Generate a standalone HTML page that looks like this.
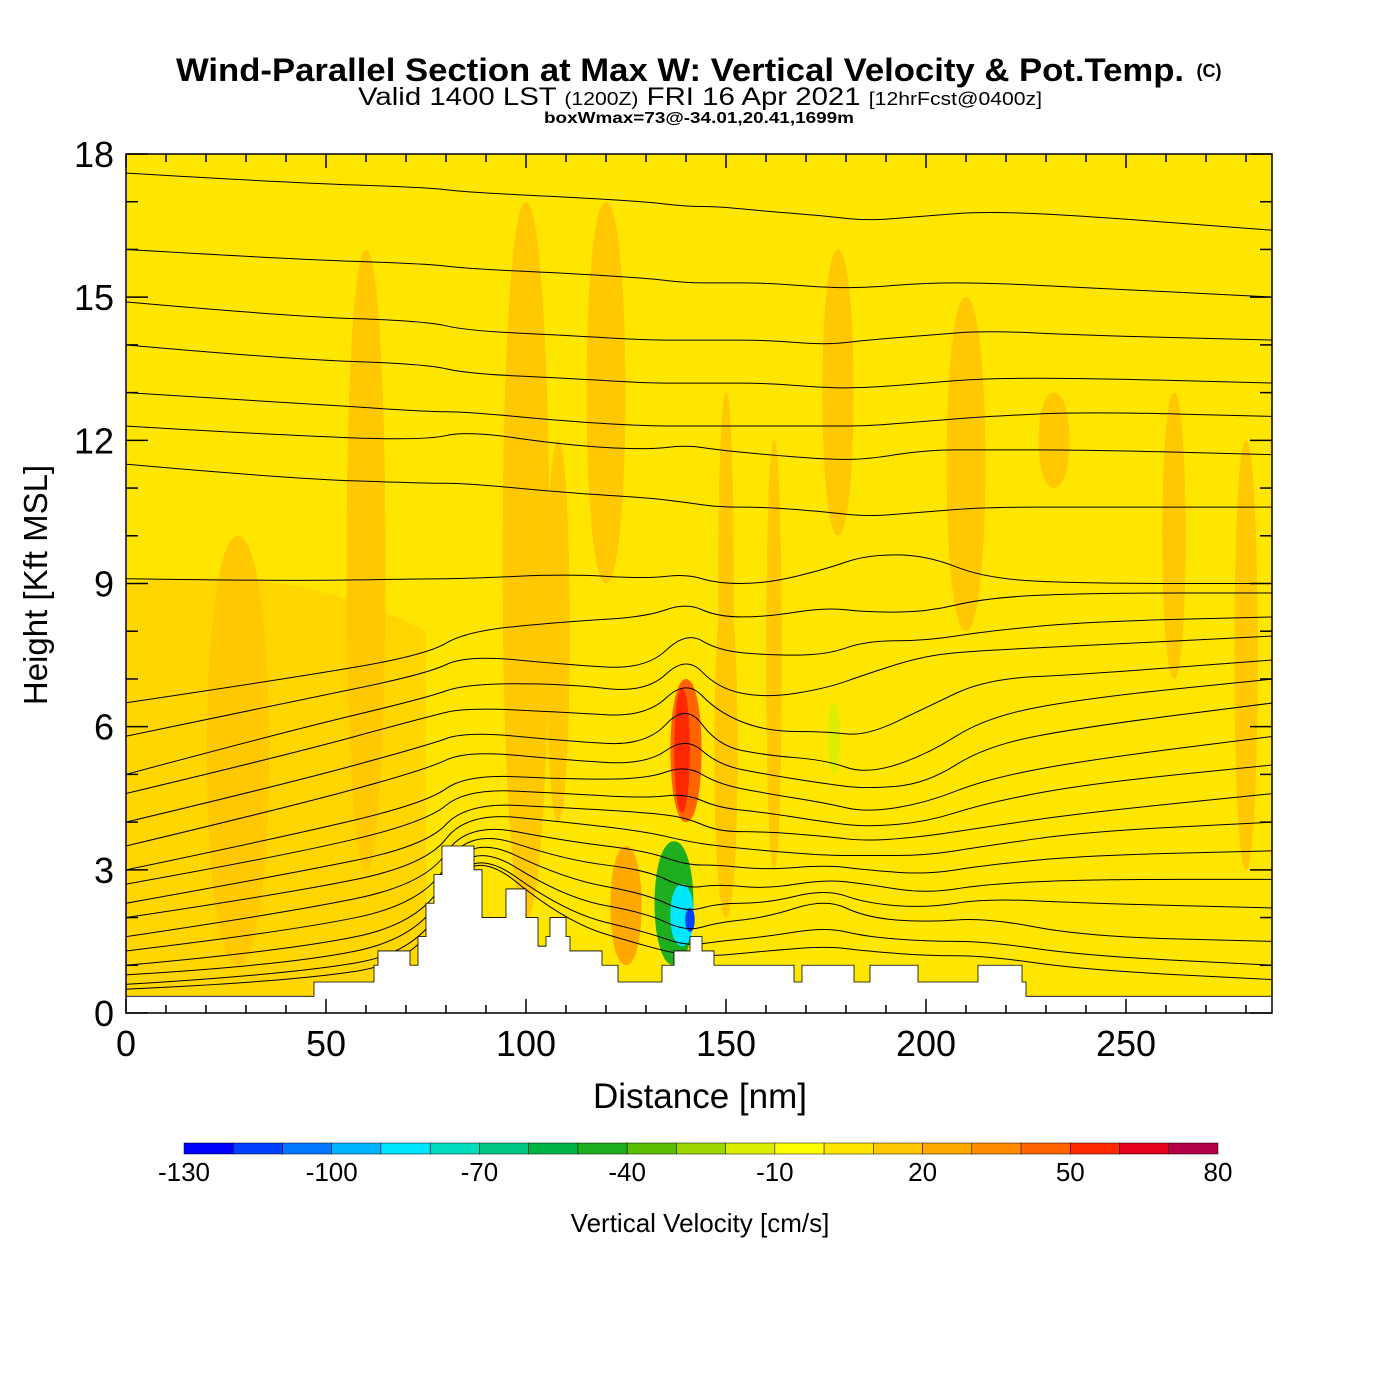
<!DOCTYPE html>
<html><head><meta charset="utf-8"><style>
body{margin:0;background:#fff;}
svg{display:block;font-family:"Liberation Sans",sans-serif;}
</style></head><body>
<svg id="chart" width="1400" height="1400" viewBox="0 0 1400 1400">
<text x="176" y="81" font-size="32" font-weight="bold" textLength="1008" lengthAdjust="spacingAndGlyphs">Wind-Parallel Section at Max W: Vertical Velocity &amp; Pot.Temp.</text>
<text x="1209" y="77" text-anchor="middle" font-size="18" font-weight="bold">(C)</text>
<text x="358" y="105" font-size="25" textLength="684" lengthAdjust="spacingAndGlyphs">Valid 1400 LST <tspan font-size="18">(1200Z)</tspan> FRI 16 Apr 2021 <tspan font-size="18">[12hrFcst@0400z]</tspan></text>
<text x="544" y="123" font-size="16" font-weight="bold" textLength="310" lengthAdjust="spacingAndGlyphs">boxWmax=73@-34.01,20.41,1699m</text>
<defs><clipPath id="plotclip"><rect x="126" y="154" width="1146" height="859"/></clipPath></defs>
<g id="plot" clip-path="url(#plotclip)">
<rect x="126" y="154" width="1146" height="859" fill="#ffe600"/>
<g id="fills"></g>
<g id="contours"></g>
<g id="terrain"></g>
</g>
<rect x="126" y="154" width="1146" height="859" fill="none" stroke="#000" stroke-width="1.5"/>
<g id="axes"></g>
<text x="700" y="1108" text-anchor="middle" font-size="35">Distance [nm]</text>
<text transform="translate(47,585) rotate(-90)" text-anchor="middle" font-size="33">Height [Kft MSL]</text>
<g id="colorbar"></g>
<text x="700" y="1232" text-anchor="middle" font-size="26">Vertical Velocity [cm/s]</text>
</svg>
<script>
const NS="http://www.w3.org/2000/svg";
// ---- data ----
const xSamples=[0,40,75,85,110,130,140,148,160,175,185,200,215,240,287];
const thetaLines=[
[17.6,17.4,17.3,17.2,17.1,17.0,16.9,16.9,16.8,16.7,16.6,16.7,16.8,16.7,16.4],
[16.0,15.8,15.7,15.6,15.5,15.4,15.3,15.3,15.3,15.2,15.2,15.3,15.3,15.2,15.0],
[14.9,14.6,14.5,14.3,14.2,14.1,14.1,14.1,14.1,14.0,14.1,14.2,14.3,14.2,14.1],
[14.0,13.7,13.6,13.4,13.3,13.2,13.2,13.2,13.2,13.1,13.1,13.2,13.3,13.3,13.2],
[13.0,12.8,12.6,12.6,12.4,12.3,12.3,12.3,12.3,12.3,12.3,12.4,12.5,12.6,12.5],
[12.3,12.1,12.0,12.2,11.9,11.8,11.9,11.8,11.7,11.6,11.6,11.8,11.8,11.8,11.7],
[11.5,11.2,11.1,11.1,10.9,10.8,10.7,10.6,10.6,10.5,10.4,10.5,10.6,10.6,10.6],
[9.1,9.05,9.1,9.1,9.2,9.1,9.2,9.0,9.0,9.3,9.6,9.6,9.1,9.0,9.0],
[6.5,7.0,7.5,8.0,8.2,8.3,8.6,8.3,8.3,8.5,8.4,8.4,8.7,8.8,8.8],
[5.8,6.5,7.1,7.5,7.3,7.2,8.0,7.6,7.5,7.5,7.8,7.8,8.0,8.2,8.3],
[5.0,5.9,6.6,6.9,6.9,6.7,7.5,6.8,6.6,6.8,7.1,7.5,7.6,7.7,7.9],
[4.6,5.4,6.2,6.4,6.3,6.2,7.0,6.3,5.9,5.9,5.8,6.4,7.0,7.1,7.4],
[4.0,4.8,5.6,5.9,5.7,5.6,6.5,5.6,5.4,5.3,5.0,5.4,6.2,6.6,7.0],
[3.5,4.3,5.1,5.5,5.3,5.2,5.8,5.2,5.0,4.8,4.7,4.8,5.6,6.0,6.5],
[3.0,3.7,4.4,5.0,4.9,4.9,5.2,4.8,4.6,4.4,4.2,4.4,4.9,5.3,5.8],
[2.7,3.3,4.0,4.7,4.6,4.5,4.6,4.3,4.2,4.0,3.9,4.0,4.4,4.8,5.2],
[2.3,2.9,3.5,4.4,4.3,4.2,4.1,3.8,3.8,3.7,3.6,3.7,3.9,4.2,4.6],
[2.0,2.5,3.1,4.2,4.0,3.8,3.6,3.5,3.4,3.3,3.3,3.3,3.5,3.8,4.0],
[1.6,2.1,2.7,4.0,3.6,3.4,3.1,3.1,3.0,3.1,3.0,2.9,3.1,3.3,3.4],
[1.3,1.7,2.3,3.9,3.2,3.0,2.6,2.7,2.6,2.8,2.7,2.5,2.7,2.8,2.8],
[1.0,1.3,1.9,3.8,2.8,2.5,2.1,2.3,2.3,2.6,2.3,2.2,2.4,2.3,2.2],
[0.8,1.0,1.6,3.7,2.4,2.1,1.7,1.9,2.0,2.4,2.0,1.9,2.0,1.6,1.5],
[0.6,0.8,1.3,3.6,2.1,1.7,1.4,1.5,1.6,1.8,1.6,1.5,1.5,1.2,1.0],
[0.5,0.65,1.1,3.6,1.9,1.4,1.2,1.2,1.3,1.4,1.3,1.2,1.2,0.9,0.7]
];
// velocity features: center distance, bottom kft, top kft, half-width nm, value cm/s
const blobX=[28,60,100,108,120,162,178,210,232,262,280,140,139,137,139,141,177,150,150,125];
const blobBot=[1,3,2,4,9,3,10,8,11,7,3,4,4.2,1.0,1.4,1.7,5.0,2,5,1];
const blobTop=[10,16,17,12,17,12,16,15,13,13,12,7,6.8,3.6,2.7,2.2,6.5,9,13,3.5];
const blobW=[8,5,6,3,5,2,4,5,4,3,3,4,2,5,3,1.2,1.5,3,2,4];
const blobVal=[15,15,15,15,15,15,15,15,15,15,15,45,55,-45,-85,-115,-15,15,15,25];
// terrain step profile
const terrX=[0,47,50,62,63,69,71,73,75,77,79,86,87,89,95,96,100,101,103,105,106,110,111,113,119,120,123,127,132,134,137,141,144,147,149,166,167,169,180,182,186,197,198,212,213,218,224,225,287];
const terrH=[0.35,0.65,0.65,1.0,1.3,1.3,1.0,1.6,2.3,2.9,3.5,3.5,3.0,2.0,2.6,2.6,2.0,2.0,1.4,1.6,2.0,1.6,1.3,1.3,1.0,1.0,0.65,0.65,0.65,1.0,1.3,1.6,1.3,1.0,1.0,1.0,0.65,1.0,1.0,0.65,1.0,1.0,0.65,0.65,1.0,1.0,0.65,0.35,0.35];
const xTicks=[0,50,100,150,200,250];
const yTicks=[0,3,6,9,12,15,18];
const cbLevels=[-130,-120,-110,-100,-90,-80,-70,-60,-50,-40,-30,-20,-10,0,10,20,30,40,50,60,70,80];
const cbColors=["#0000ff","#0040ff","#0078ff","#00b4ff","#00e6ff","#00dcbe","#00c882","#00b446","#1eae1e","#5cbe00","#9cd600","#dcee00","#ffff00","#ffe600","#ffc800","#ffa800","#ff8c00","#ff6400","#ff2800","#e6001e","#b40046"];
const cbLabels=[-130,-100,-70,-40,-10,20,50,80];
// ---- axes ----
const X=d=>126+d*(1146/286.5);
const Y=h=>1013-h*(859/18);
function colorFor(v){for(let i=0;i<cbColors.length;i++){if(v<cbLevels[i+1])return cbColors[i];}return cbColors[cbColors.length-1];}
function mk(tag,attrs,parent){const e=document.createElementNS(NS,tag);for(const k in attrs)e.setAttribute(k,attrs[k]);parent.appendChild(e);return e;}
const fills=document.getElementById('fills');
const lr=mk('path',{d:`M${X(0)},${Y(0)} L${X(0)},${Y(9)} Q${X(40)},${Y(9.5)} ${X(75)},${Y(8)} L${X(75)},${Y(0)} Z`,fill:'#ffd200',opacity:'0.8'},fills);


for(let i=0;i<blobX.length;i++){
  const cx=X(blobX[i]),w=blobW[i]*4,yb=Y(blobBot[i]),yt=Y(blobTop[i]);
  const p=mk('path',{d:`M${cx},${yb} C${cx-w*1.3},${yb} ${cx-w*1.3},${yt} ${cx},${yt} C${cx+w*1.3},${yt} ${cx+w*1.3},${yb} ${cx},${yb} Z`,fill:colorFor(blobVal[i])},fills);
  
  
}
const cont=document.getElementById('contours');
function smoothPath(pts){let d=`M${pts[0][0]},${pts[0][1]}`;for(let i=1;i<pts.length-1;i++){const mx=(pts[i][0]+pts[i+1][0])/2,my=(pts[i][1]+pts[i+1][1])/2;d+=` Q${pts[i][0]},${pts[i][1]} ${mx},${my}`;}const l=pts[pts.length-1];d+=` L${l[0]},${l[1]}`;return d;}
thetaLines.forEach((line)=>{
  const pts=line.map((h,i)=>[X(xSamples[i]),Y(h)]);
  const p=mk('path',{d:smoothPath(pts),fill:'none',stroke:'#000','stroke-width':'1'},cont);
  
  
});
const terr=document.getElementById('terrain');
let td=`M${X(terrX[0])},${Y(0)}`;
for(let i=0;i<terrX.length;i++){const x0=X(terrX[i]),x1=X(i<terrX.length-1?terrX[i+1]:287);td+=` L${x0},${Y(terrH[i])} L${x1},${Y(terrH[i])}`;}
td+=` L${X(287)},${Y(0)} Z`;
const tp=mk('path',{d:td,fill:'#fff',stroke:'#000','stroke-width':'0.8'},terr);


const axes=document.getElementById('axes');
for(let d=0;d<=280;d+=10){const maj=d%50===0;const l=maj?14:8;
  mk('line',{x1:X(d),x2:X(d),y1:1013,y2:1013-l,stroke:'#000','stroke-width':'1.5'},axes);
  mk('line',{x1:X(d),x2:X(d),y1:154,y2:154+l,stroke:'#000','stroke-width':'1.5'},axes);}
for(let h=0;h<=18;h++){const maj=h%3===0;const l=maj?22:12;
  mk('line',{x1:126,x2:126+l,y1:Y(h),y2:Y(h),stroke:'#000','stroke-width':'1.5'},axes);
  mk('line',{x1:1272,x2:1272-l,y1:Y(h),y2:Y(h),stroke:'#000','stroke-width':'1.5'},axes);}
xTicks.forEach(v=>{const t=mk('text',{x:X(v),y:1056,'text-anchor':'middle','font-size':'36'},axes);t.textContent=v;
  
  });
yTicks.forEach(v=>{const t=mk('text',{x:114,y:Y(v)+13,'text-anchor':'end','font-size':'36'},axes);t.textContent=v;
  
  });
const cb=document.getElementById('colorbar');
const cbX=v=>184+(v+130)*(1034/210);
for(let i=0;i<cbColors.length;i++){
  const r=mk('rect',{x:cbX(cbLevels[i]),y:1143,width:cbX(cbLevels[i+1])-cbX(cbLevels[i]),height:11,fill:cbColors[i],stroke:'#000','stroke-width':'0.5'},cb);
  
  
}
cbLabels.forEach(v=>{const t=mk('text',{x:cbX(v),y:1181,'text-anchor':'middle','font-size':'26'},cb);t.textContent=v;
  
  });
</script>
</body></html>
